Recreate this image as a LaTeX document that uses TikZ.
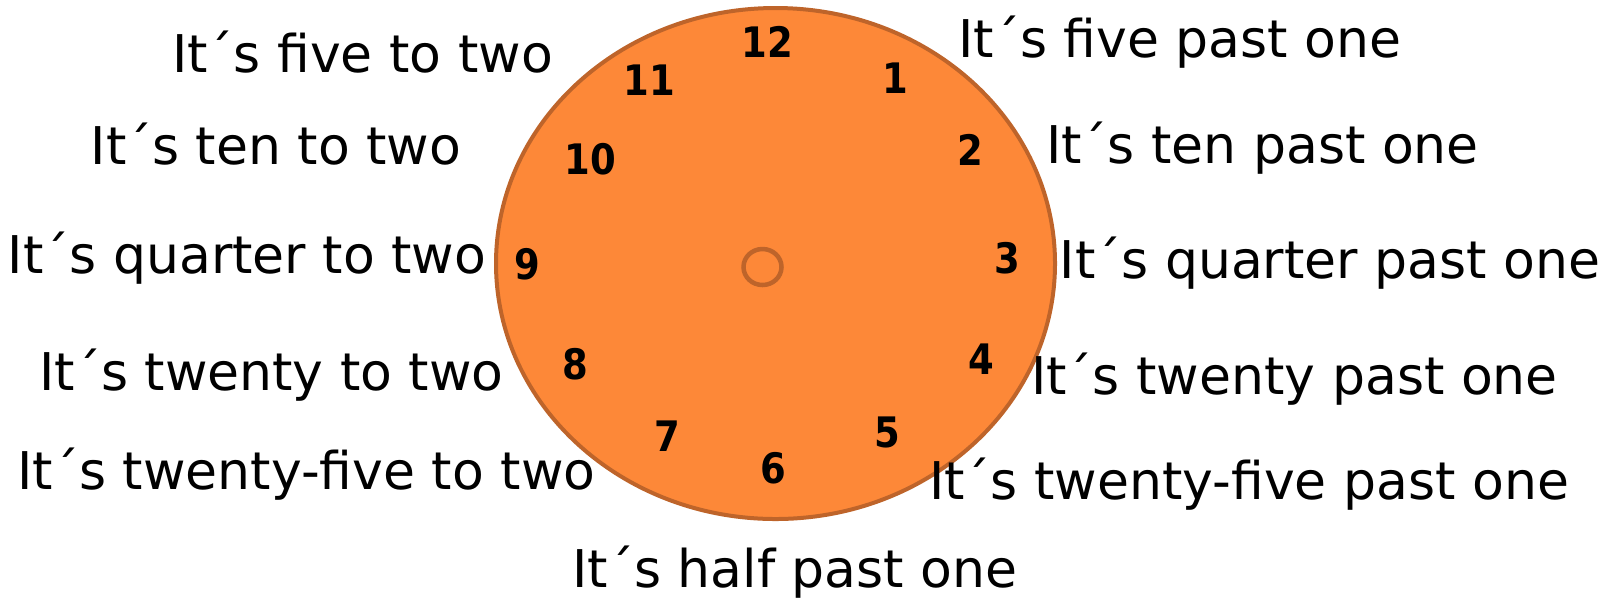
\documentclass[tikz,border=0pt]{standalone}
\usepackage{fontspec}
\setmainfont{DejaVu Sans}
\newfontfamily\numfont{DejaVu Sans}[FakeStretch=0.88]
\definecolor{clockfill}{RGB}{253,136,56}
\definecolor{clockrim}{RGB}{190,100,42}
\begin{document}
\begin{tikzpicture}[x=0.5pt,y=-0.5pt,
  phrase/.style={font=\fontsize{26}{30}\selectfont, anchor=base, inner sep=0pt},
  hour/.style={font=\numfont\bfseries\fontsize{21}{25}\selectfont, inner sep=0pt}]
\useasboundingbox (0,0) rectangle (1610,602);
% clock face
\draw[clockrim, fill=clockfill, line width=2pt] (775.5,263.5) ellipse [x radius=279.5, y radius=255.5];
\draw[clockrim, line width=2.25pt] (762.5,267) ellipse [x radius=19, y radius=18];
% hour numbers
\node[hour] (h12) at (767,42) {12};
\node[hour] (h1) at (895,78) {1};
\node[hour] (h2) at (970,150) {2};
\node[hour] (h3) at (1007,258) {3};
\node[hour] (h4) at (981,359) {4};
\node[hour] (h5) at (887,432) {5};
\node[hour] (h6) at (773.5,468) {6};
\node[hour] (h7) at (667.5,436) {7};
\node[hour] (h8) at (575,364) {8};
\node[hour] (h9) at (527,264) {9};
\node[hour] (h10) at (590,159) {10};
\node[hour] (h11) at (649.5,80) {11};
% phrases left
\node[phrase] (l1) at (362.5,72) {It´s five to two};
\node[phrase] (l2) at (276,164) {It´s ten to two};
\node[phrase] (l3) at (247,273) {It´s quarter to two};
\node[phrase] (l4) at (271.5,390) {It´s twenty to two};
\node[phrase] (l5) at (306.5,489) {It´s twenty-five to two};
% phrases right
\node[phrase] (r1) at (1180,57) {It´s five past one};
\node[phrase] (r2) at (1262.5,163) {It´s ten past one};
\node[phrase] (r3) at (1330,278) {It´s quarter past one};
\node[phrase] (r4) at (1294.5,394) {It´s twenty past one};
\node[phrase] (r5) at (1249,499) {It´s twenty-five past one};
% bottom
\node[phrase] (b) at (795,587) {It´s half past one};
\end{tikzpicture}
\end{document}
